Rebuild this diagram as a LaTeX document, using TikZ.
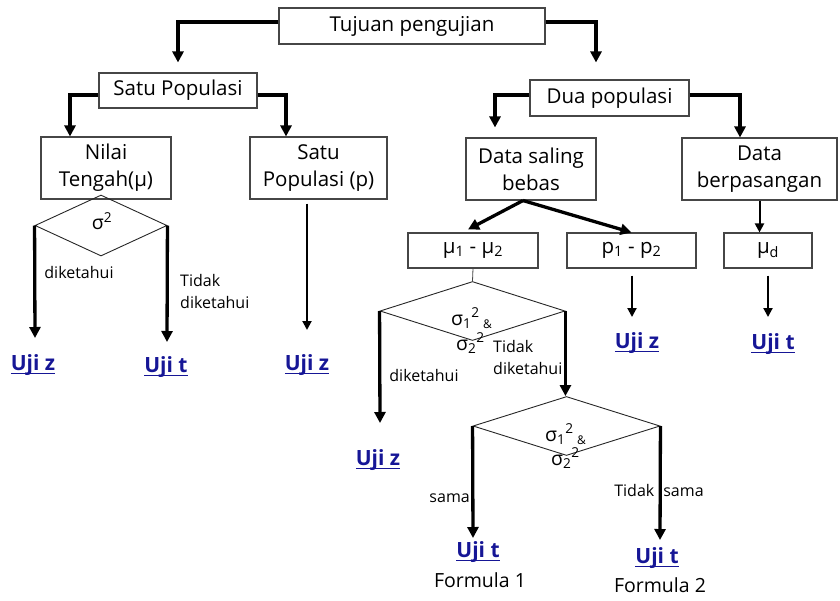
\documentclass[tikz,border=0pt]{standalone}
\usepackage{fontspec}
\setmainfont{Open Sans}
\usetikzlibrary{arrows.meta,shapes.geometric,calc}
\definecolor{ujiblue}{RGB}{22,22,150}
\definecolor{boxline}{RGB}{70,70,70}
\newcommand{\myul}[1]{\setbox0=\hbox{#1}\rlap{\rule[-3.5pt]{\wd0}{1.3pt}}\box0}
\newcommand{\sgm}[1]{σ\textsubscript{#1}\textsuperscript{2}}
\begin{document}
\begin{tikzpicture}[x=1pt,y=-1pt,
  box/.style={draw=boxline, line width=1.1pt, align=center, inner sep=0pt,
    font=\fontsize{20.5}{27}\selectfont},
  dia/.style={draw=black!85, line width=0.9pt, shape=diamond, inner sep=0pt},
  tk/.style={line width=3.3pt, -{Triangle[width=11pt,length=11pt]}},
  tn/.style={line width=2pt, -{Triangle[width=9pt,length=9pt]}},
  lbl/.style={font=\fontsize{16}{22}\selectfont, inner sep=0pt, align=left},
  sig/.style={font=\fontsize{19.5}{22}\selectfont, inner sep=0pt},
  uji/.style={font=\fontsize{21}{24}\selectfont\bfseries, text=ujiblue, inner sep=0pt},
  frm/.style={font=\fontsize{19.5}{24}\selectfont, inner sep=0pt}]
\useasboundingbox (0,0) rectangle (840,600);

% boxes
\node[box, minimum width=266pt, minimum height=36pt] (tujuan) at (412,26) {Tujuan pengujian};
\node[box, minimum width=158pt, minimum height=35pt] (satu) at (178,90.5) {Satu Populasi};
\node[box, minimum width=130pt, minimum height=62pt] (nilai) at (106,168) {Nilai\\Tengah(μ)};
\node[box, minimum width=137pt, minimum height=62pt] (satup) at (318.5,168) {Satu\\Populasi (p)};
\node[box, minimum width=159pt, minimum height=36pt] (dua) at (609.5,98) {Dua populasi};
\node[box, minimum width=130pt, minimum height=62pt] (bebas) at (531,169) {Data saling\\bebas};
\node[box, minimum width=155pt, minimum height=62pt] (pasang) at (759.5,169) {Data\\berpasangan};
\node[box, minimum width=130pt, minimum height=35pt] (mu12) at (473,250.5) {μ\textsubscript{1} - μ\textsubscript{2}};
\node[box, minimum width=129pt, minimum height=35pt] (p12) at (631.5,250.5) {p\textsubscript{1} - p\textsubscript{2}};
\node[box, minimum width=88pt, minimum height=35pt] (mud) at (768,250.5) {μ\textsubscript{d}};

% diamonds
\node[dia, minimum width=132pt, minimum height=61pt] (d1) at (101,225.5) {};
\node[sig] (s1) at (102,221) {σ\textsuperscript{2}};
\node[dia, minimum width=185pt, minimum height=59pt] (d2) at (472.5,311) {};
\node[sig, anchor=west] (s2a) at (451,318) {\sgm{1}\,\raisebox{-3pt}{\fontsize{12}{12}\selectfont\&}};
\node[sig, anchor=west] (s2b) at (456,343) {\sgm{2}};
\node[dia, minimum width=187pt, minimum height=59pt] (d3) at (566.5,426) {};
\node[sig, anchor=west] (s3a) at (545,434) {\sgm{1}\,\raisebox{-3pt}{\fontsize{12}{12}\selectfont\&}};
\node[sig, anchor=west] (s3b) at (551,458) {\sgm{2}};

% results
\node[uji] (uz1) at (33,365) {\myul{Uji z}};
\node[uji] (ut1) at (166,367) {\myul{Uji t}};
\node[uji] (uz2) at (307,365) {\myul{Uji z}};
\node[uji] (uz3) at (637,343) {\myul{Uji z}};
\node[uji] (ut2) at (773,344) {\myul{Uji t}};
\node[uji] (uz4) at (378,460) {\myul{Uji z}};
\node[uji] (ut3) at (478,552) {\myul{Uji t}};
\node[frm] (f1) at (480,580) {Formula 1};
\node[uji] (ut4) at (657,558) {\myul{Uji t}};
\node[frm] (f2) at (660,585) {Formula 2};

% labels
\node[lbl] (l1) at (79,272) {diketahui};
\node[lbl, anchor=west] (l2) at (180,291) {Tidak\\diketahui};
\node[lbl] (l3) at (424,375) {diketahui};
\node[lbl, anchor=west] (l4) at (493,357) {Tidak\\diketahui};
\node[lbl, anchor=east] (l5) at (470,498) {sama};
\node[lbl] (l6) at (659,490) {Tidak\hspace{9pt}sama};

% arrow end points
\coordinate (e1) at (35,338);
\coordinate (e2) at (167,342);
\coordinate (e3) at (307,330);
\coordinate (e4) at (632,317);
\coordinate (e5) at (768,317);
\coordinate (e6) at (380,423);
\coordinate (e7) at (473,538);
\coordinate (e8) at (660,540);

% connectors
\draw[tk] ([yshift=4pt]tujuan.west) -| ([yshift=10pt]satu.north);
\draw[tk] ([yshift=4pt]tujuan.east) -| ([xshift=-13.5pt,yshift=17pt]dua.north);
\draw[tk] ([yshift=-4.5pt]satu.west) -| ([xshift=-36pt]nilai.north);
\draw[tk] ([yshift=-4.5pt]satu.east) -| ([xshift=-32.5pt]satup.north);
\draw[tk] ([yshift=3pt]dua.west) -| ([xshift=-36pt,yshift=10pt]bebas.north);
\draw[tk] ([yshift=3pt]dua.east) -| ([xshift=-19.5pt]pasang.north);
\draw[tk] ([xshift=-8pt]bebas.south) -- ([xshift=-5pt,yshift=3pt]mu12.north);
\draw[tk] ([xshift=-8pt]bebas.south) -- (p12.north);
\draw[tn] (pasang.south) -- (pasang.south |- mud.north);

\draw[tk] (d1.west) -- (e1);
\draw[tk] (d1.east) -- (e2);
\draw[tn] ($(satup.south -| e3)+(0,4)$) -- (e3);
\draw[tn] ($(p12.south -| e4)+(0,7)$) -- (e4);
\draw[tn] ($(mud.south -| e5)+(0,7)$) -- (e5);

\draw[line width=0.8pt, draw=boxline] (mu12.south) -- (d2.north);
\draw[tk] (d2.west) -- (e6);
\draw[tk] (d2.east) -- (d2.east |- d3.north);
\draw[tk] (d3.west) -- (e7);
\draw[tk] (d3.east) -- (e8);
\end{tikzpicture}
\end{document}
